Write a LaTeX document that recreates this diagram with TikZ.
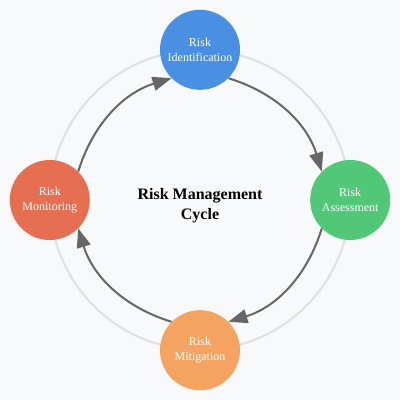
\documentclass[tikz,border=0pt]{standalone}
\usepackage{fontspec}
\setmainfont{Liberation Serif}
\usetikzlibrary{arrows.meta, positioning}

\definecolor{bgpanel}{HTML}{F8F9FA}
\definecolor{ringgray}{HTML}{E0E0E0}
\definecolor{arrowgray}{HTML}{666666}
\definecolor{riskblue}{HTML}{4A90E2}
\definecolor{riskgreen}{HTML}{50C878}
\definecolor{riskorange}{HTML}{F4A460}
\definecolor{riskred}{HTML}{E76F51}

\begin{document}
\begin{tikzpicture}[
    x=1pt, y=-1pt,
    node distance=110pt,
    stage/.style={circle, minimum size=80pt, inner sep=0pt, align=center, text=white, font=\fontsize{12}{15}\selectfont},
    title/.style={align=center, inner sep=0pt, font=\fontsize{16}{20}\selectfont\bfseries},
    flow/.style={draw=arrowgray, line width=2pt, -{Triangle[length=19pt, width=14pt]}}
]

% Background and ring
\fill[bgpanel] (0,0) rectangle (400,400);
\coordinate (hub) at (200,200);
\draw[ringgray, line width=2pt] (hub) circle[radius=150];

% Nodes
\node[stage, fill=riskblue, above=of hub] (ident) {Risk\\Identification};
\node[stage, fill=riskgreen, right=of hub] (assess) {Risk\\Assessment};
\node[stage, fill=riskorange, below=of hub] (mitig) {Risk\\Mitigation};
\node[stage, fill=riskred, left=of hub] (monit) {Risk\\Monitoring};
\node[title] (cycle) at (200,206) {Risk Management\\Cycle};

% Arrows
\draw[flow] (ident.-45) .. controls (276.1,92.8) and (307.2,123.9) .. (assess.135);
\draw[flow] (assess.-135) .. controls (307.2,276.1) and (276.1,307.2) .. (mitig.45);
\draw[flow] (mitig.135) .. controls (123.9,307.2) and (92.8,276.1) .. (monit.-45);
\draw[flow] (monit.45) .. controls (92.8,123.9) and (123.9,92.8) .. (ident.-135);

\end{tikzpicture}
\end{document}
